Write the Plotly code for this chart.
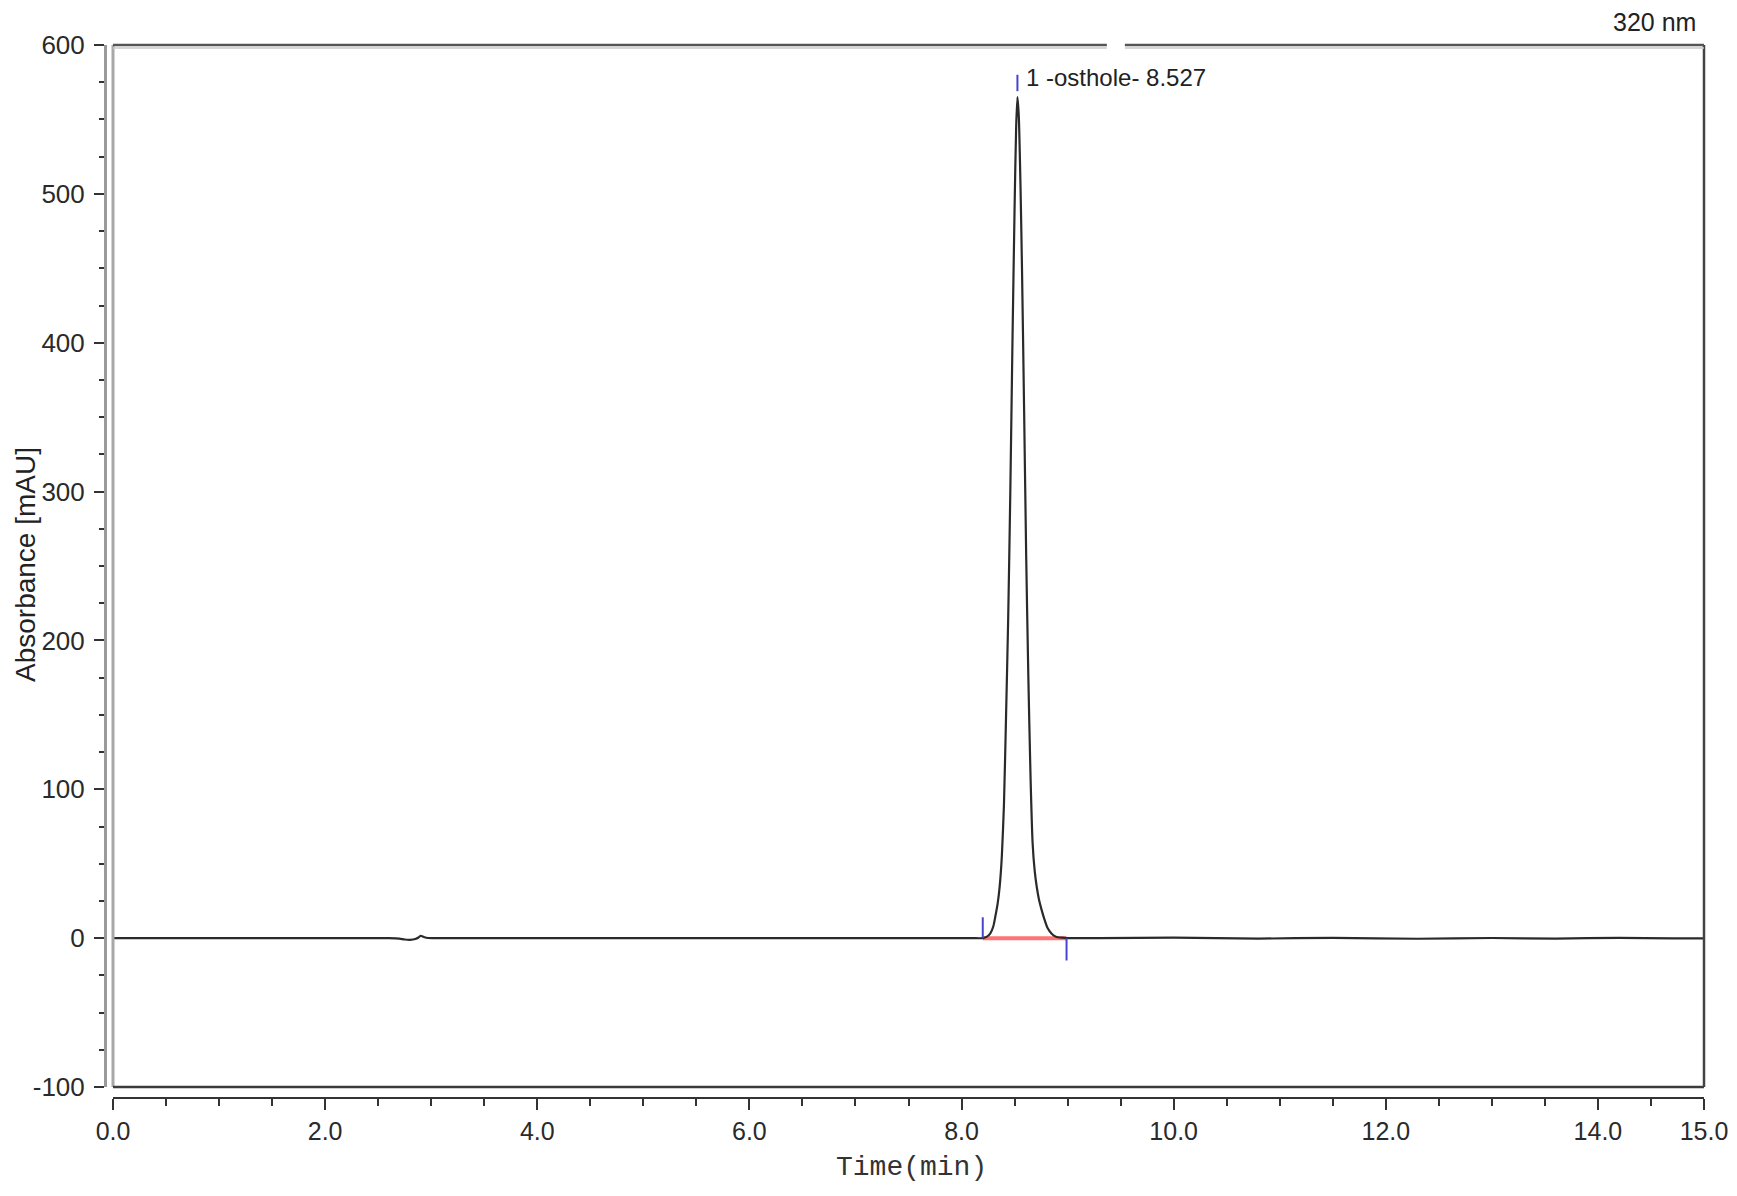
import plotly.graph_objects as go

# ---------------- data ----------------
time_min = [0.0, 1.0, 2.0, 2.60, 2.70, 2.75, 2.80, 2.85, 2.88, 2.90, 2.93, 2.97, 3.05,
            4.0, 5.0, 6.0, 7.0, 7.8, 8.10, 8.20, 8.24, 8.27, 8.30, 8.32, 8.34, 8.36,
            8.38, 8.40, 8.42, 8.44, 8.46, 8.48, 8.50, 8.515, 8.527, 8.54, 8.556, 8.57,
            8.59, 8.61, 8.63, 8.65, 8.67, 8.69, 8.71, 8.73, 8.755, 8.78, 8.81, 8.85, 8.89,
            8.95, 8.99, 9.3, 10.0, 10.8, 11.5, 12.3, 13.0, 13.6, 14.2, 14.7, 15.0]
absorbance = [0.0, 0.0, 0.0, 0.0, -0.3, -0.9, -1.1, -0.6, 0.4, 1.6, 0.8, 0.1, 0.0,
              0.0, 0.0, 0.0, 0.0, 0.0, 0.0, 0.0, 1.0, 3.0, 8.0, 15.0, 23.0, 35.0,
              55.0, 90.0, 150.0, 215.0, 300.0, 400.0, 490.0, 545.0, 565.0, 552.0, 505.0, 450.0,
              355.0, 255.0, 175.0, 110.0, 64.0, 45.0, 34.0, 26.0, 19.0, 13.0, 7.0, 3.0, 1.0,
              0.3, 0.0, 0.0, 0.3, -0.3, 0.2, -0.4, 0.1, -0.3, 0.2, -0.2, -0.2]

peak_label = "1 -osthole- 8.527"
peak_time = [8.527]
peak_height = [565.0]
integration_start = [8.20]
integration_end = [8.99]

x_tick_vals = [0, 2, 4, 6, 8, 10, 12, 14, 15]
x_tick_text = ["0.0", "2.0", "4.0", "6.0", "8.0", "10.0", "12.0", "14.0", "15.0"]
y_tick_vals = [600, 500, 400, 300, 200, 100, 0, -100]
y_tick_text = ["600", "500", "400", "300", "200", "100", "0", "-100"]

x_range = [0, 15]
y_range = [-100, 600]

# ---------------- figure ----------------
OFF = 8                       # page body margin offset
W, H = 1721, 1178
# target screen pixels: plot x 105..1704, y 45..1098
ml = 105 - OFF
mt = 45 - OFF
mr = W - (1704 - OFF)
mb = H - (1098 - OFF)
pw, ph = W - ml - mr, H - mt - mb


def px(sx):
    return (sx - OFF - ml) / pw


def py(sy):
    return (H - mb - (sy - OFF)) / ph


fig = go.Figure()

# integration baseline (red)
fig.add_trace(go.Scatter(
    x=[integration_start[0], integration_end[0]], y=[0, 0], mode="lines",
    line=dict(color="rgba(255,70,70,0.75)", width=4), hoverinfo="skip", showlegend=False))

# chromatogram trace
fig.add_trace(go.Scatter(
    x=time_min, y=absorbance, mode="lines",
    line=dict(color="#2a2a2a", width=2.2, shape="spline", smoothing=0.6), showlegend=False))

# blue peak delimiters
blue = "#4444cc"
fig.add_trace(go.Scatter(
    x=[integration_start[0], integration_start[0]], y=[0, 14], mode="lines",
    line=dict(color=blue, width=2), hoverinfo="skip", showlegend=False))
fig.add_trace(go.Scatter(
    x=[integration_end[0], integration_end[0]], y=[0, -15], mode="lines",
    line=dict(color=blue, width=2), hoverinfo="skip", showlegend=False))
fig.add_trace(go.Scatter(
    x=[peak_time[0], peak_time[0]], y=[peak_height[0] + 4, peak_height[0] + 15], mode="lines",
    line=dict(color=blue, width=2), hoverinfo="skip", showlegend=False))

x_dom0 = (113 - 105) / pw
y_dom0 = (1098 - 1087) / ph

fig.update_layout(
    width=W, height=H,
    margin=dict(l=ml, r=mr, t=mt, b=mb, autoexpand=False),
    paper_bgcolor="white", plot_bgcolor="white",
    showlegend=False,
    xaxis=dict(
        domain=[x_dom0, 1], range=x_range, anchor="free", position=0,
        automargin=False,
        showgrid=False, zeroline=False,
        showline=True, linecolor="#333333", linewidth=2,
        tickmode="array", tickvals=x_tick_vals, ticktext=x_tick_text,
        ticks="outside", ticklen=11, tickwidth=2, tickcolor="#333333",
        tickfont=dict(family="Liberation Sans, Arial, sans-serif", size=25, color="#2a2a2a"),
        ticklabeloverflow="allow",
        minor=dict(tickmode="array", tickvals=[v * 0.5 for v in range(0, 31)],
                   ticks="outside", ticklen=7, tickwidth=2, tickcolor="#333333"),
    ),
    yaxis=dict(
        domain=[y_dom0, 1], range=y_range, anchor="free", position=0,
        automargin=False,
        showgrid=False, zeroline=False,
        showline=True, linecolor="#9a9a9a", linewidth=3,
        tickmode="array", tickvals=y_tick_vals, ticktext=y_tick_text,
        ticks="outside", ticklen=10, tickwidth=2, tickcolor="#333333",
        tickfont=dict(family="Liberation Sans, Arial, sans-serif", size=26, color="#2a2a2a"),
        ticklabelstandoff=4,
        minor=dict(tickmode="array", tickvals=[v * 25 for v in range(-4, 25)],
                   ticks="outside", ticklen=5, tickwidth=2, tickcolor="#333333"),
    ),
)

# plot frame (with the small gap in the top edge)
gap0, gap1 = 9.37 / 15, 9.54 / 15
frame = [
    dict(x0=0, x1=0, y0=0, y1=1, color="#a8a8a8", width=3),
    dict(x0=0, x1=1, y0=0, y1=0, color="#3c3c3c", width=2.5),
    dict(x0=1, x1=1, y0=0, y1=1, color="#444444", width=2.5),
    dict(x0=0, x1=gap0, y0=1, y1=1, color="#555555", width=2.5),
    dict(x0=gap1, x1=1, y0=1, y1=1, color="#555555", width=2.5),
]
for f in frame:
    fig.add_shape(type="line", xref="x domain", yref="y domain",
                  x0=f["x0"], x1=f["x1"], y0=f["y0"], y1=f["y1"],
                  line=dict(color=f["color"], width=f["width"]), layer="above")
# light shadow under top edge
for a, b in [(0, gap0), (gap1, 1)]:
    fig.add_shape(type="line", xref="x domain", yref="paper",
                  x0=a, x1=b, y0=1 - 3 / ph, y1=1 - 3 / ph,
                  line=dict(color="#c8c8c8", width=1.5))

# peak label
fig.add_annotation(x=peak_time[0] + 0.065, y=peak_height[0] + 13, xref="x", yref="y",
                   text=peak_label, showarrow=False, xanchor="left", yanchor="middle",
                   font=dict(family="Liberation Sans, Arial, sans-serif", size=24, color="#222"))

# wavelength label
fig.add_annotation(x=px(1698), y=py(22), xref="paper", yref="paper",
                   text="320 nm", showarrow=False, xanchor="right", yanchor="middle",
                   font=dict(family="Liberation Sans, Arial, sans-serif", size=25, color="#222"))

# axis titles
fig.add_annotation(x=px(25), y=py(565), xref="paper", yref="paper",
                   text="Absorbance [mAU]", textangle=-90, showarrow=False,
                   xanchor="center", yanchor="middle",
                   font=dict(family="Liberation Sans, Arial, sans-serif", size=28, color="#222"))
fig.add_annotation(x=px(911), y=py(1167), xref="paper", yref="paper",
                   text="Time(min)", showarrow=False, xanchor="center", yanchor="middle",
                   font=dict(family="Liberation Mono, Courier New, monospace", size=28, color="#333"))

fig.write_html("out.html")
